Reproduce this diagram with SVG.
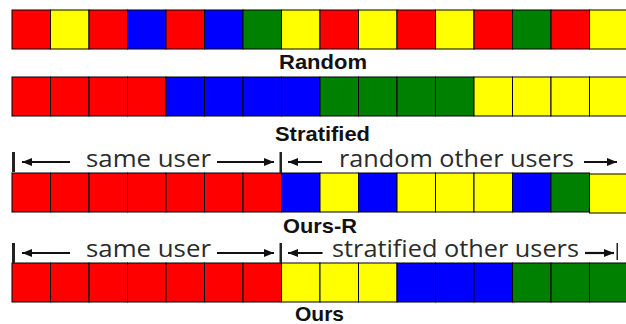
<svg xmlns="http://www.w3.org/2000/svg" width="626" height="324" viewBox="0 0 626 324">
<style>
.c{stroke:#000;stroke-width:1}
.R{fill:#ff0000}.Y{fill:#ffff00}.B{fill:#0000ff}.G{fill:#008000}
.lab{font-family:"Liberation Sans",Arial,sans-serif;font-weight:bold;font-size:21px;fill:#111;text-anchor:middle}
.br{font-family:"Open Sans","Liberation Sans",sans-serif;font-size:23px;fill:#2b2b2b}
.ar{stroke:#111;stroke-width:2.2;fill:none;marker-end:url(#ah)}
.bar{fill:#222}
</style>
<defs>
<marker id="ah" markerUnits="userSpaceOnUse" markerWidth="10" markerHeight="8" refX="10" refY="4" orient="auto">
<path d="M0,0 L10,4 L0,8 z" fill="#111"/>
</marker>
</defs>
<rect width="626" height="324" fill="#fff"/>

<g id="row-random">
<rect class="c R" x="12" y="10" width="38.5" height="39"/>
<rect class="c Y" x="50.5" y="10" width="38.5" height="39"/>
<rect class="c R" x="89" y="10" width="38.5" height="39"/>
<rect class="c B" x="127.5" y="10" width="38.5" height="39"/>
<rect class="c R" x="166" y="10" width="38.5" height="39"/>
<rect class="c B" x="204.5" y="10" width="38.5" height="39"/>
<rect class="c G" x="243" y="10" width="38.5" height="39"/>
<rect class="c Y" x="281.5" y="10" width="38.5" height="39"/>
<rect class="c R" x="320" y="10" width="38.5" height="39"/>
<rect class="c Y" x="358.5" y="10" width="38.5" height="39"/>
<rect class="c R" x="397" y="10" width="38.5" height="39"/>
<rect class="c Y" x="435.5" y="10" width="38.5" height="39"/>
<rect class="c R" x="474" y="10" width="38.5" height="39"/>
<rect class="c G" x="512.5" y="10" width="38.5" height="39"/>
<rect class="c R" x="551" y="10" width="38.5" height="39"/>
<rect class="c Y" x="589.5" y="10" width="38.5" height="39"/>
<text class="lab" x="323" y="69" textLength="88" lengthAdjust="spacingAndGlyphs">Random</text>
</g>

<g id="row-stratified">
<rect class="c R" x="12" y="77" width="38.5" height="39"/>
<rect class="c R" x="50.5" y="77" width="38.5" height="39"/>
<rect class="c R" x="89" y="77" width="38.5" height="39"/>
<rect class="c R" x="127.5" y="77" width="38.5" height="39"/>
<rect class="c B" x="166" y="77" width="38.5" height="39"/>
<rect class="c B" x="204.5" y="77" width="38.5" height="39"/>
<rect class="c B" x="243" y="77" width="38.5" height="39"/>
<rect class="c B" x="281.5" y="77" width="38.5" height="39"/>
<rect class="c G" x="320" y="77" width="38.5" height="39"/>
<rect class="c G" x="358.5" y="77" width="38.5" height="39"/>
<rect class="c G" x="397" y="77" width="38.5" height="39"/>
<rect class="c G" x="435.5" y="77" width="38.5" height="39"/>
<rect class="c Y" x="474" y="77" width="38.5" height="39"/>
<rect class="c Y" x="512.5" y="77" width="38.5" height="39"/>
<rect class="c Y" x="551" y="77" width="38.5" height="39"/>
<rect class="c Y" x="589.5" y="77" width="38.5" height="39"/>
<text class="lab" x="322.5" y="141" textLength="95" lengthAdjust="spacingAndGlyphs">Stratified</text>
</g>

<g id="row-ours-r">
<rect class="c R" x="12" y="173" width="38.5" height="39"/>
<rect class="c R" x="50.5" y="173" width="38.5" height="39"/>
<rect class="c R" x="89" y="173" width="38.5" height="39"/>
<rect class="c R" x="127.5" y="173" width="38.5" height="39"/>
<rect class="c R" x="166" y="173" width="38.5" height="39"/>
<rect class="c R" x="204.5" y="173" width="38.5" height="39"/>
<rect class="c R" x="243" y="173" width="38.5" height="39"/>
<rect class="c B" x="281.5" y="173" width="38.5" height="39"/>
<rect class="c Y" x="320" y="173" width="38.5" height="39"/>
<rect class="c B" x="358.5" y="173" width="38.5" height="39"/>
<rect class="c Y" x="397" y="173" width="38.5" height="39"/>
<rect class="c Y" x="435.5" y="173" width="38.5" height="39"/>
<rect class="c Y" x="474" y="173" width="38.5" height="39"/>
<rect class="c B" x="512.5" y="173" width="38.5" height="39"/>
<rect class="c G" x="551" y="173" width="38.5" height="39"/>
<rect class="c Y" x="589.5" y="174" width="38.5" height="39"/>
<text class="lab" x="320" y="233" textLength="74" lengthAdjust="spacingAndGlyphs">Ours-R</text>
<text class="br" x="86" y="167" textLength="125" lengthAdjust="spacingAndGlyphs">same user</text>
<text class="br" x="339" y="167" textLength="235" lengthAdjust="spacingAndGlyphs">random other users</text>
<rect class="bar" x="12" y="152" width="3" height="20"/>
<rect class="bar" x="279.5" y="152" width="2.5" height="21"/>
</g>

<g id="row-ours">
<rect class="c R" x="12" y="263" width="38.5" height="39"/>
<rect class="c R" x="50.5" y="263" width="38.5" height="39"/>
<rect class="c R" x="89" y="263" width="38.5" height="39"/>
<rect class="c R" x="127.5" y="263" width="38.5" height="39"/>
<rect class="c R" x="166" y="263" width="38.5" height="39"/>
<rect class="c R" x="204.5" y="263" width="38.5" height="39"/>
<rect class="c R" x="243" y="263" width="38.5" height="39"/>
<rect class="c Y" x="281.5" y="263" width="38.5" height="39"/>
<rect class="c Y" x="320" y="263" width="38.5" height="39"/>
<rect class="c Y" x="358.5" y="263" width="38.5" height="39"/>
<rect class="c B" x="397" y="263" width="38.5" height="39"/>
<rect class="c B" x="435.5" y="263" width="38.5" height="39"/>
<rect class="c B" x="474" y="263" width="38.5" height="39"/>
<rect class="c G" x="512.5" y="263" width="38.5" height="39"/>
<rect class="c G" x="551" y="263" width="38.5" height="39"/>
<rect class="c G" x="589.5" y="263" width="38.5" height="39"/>
<text class="lab" x="319.5" y="320.5" textLength="49" lengthAdjust="spacingAndGlyphs">Ours</text>
<text class="br" x="86" y="257" textLength="125" lengthAdjust="spacingAndGlyphs">same user</text>
<text class="br" x="332" y="257" textLength="247" lengthAdjust="spacingAndGlyphs">stratified other users</text>
<rect class="bar" x="12" y="243" width="3" height="20"/>
<rect class="bar" x="279.5" y="243" width="2.5" height="20"/>
<rect class="bar" x="616.5" y="243" width="1.5" height="17"/>
</g>

<g id="connectors">
<line class="ar" x1="70" y1="162" x2="22" y2="162"/>
<line class="ar" x1="217" y1="162" x2="274" y2="162"/>
<line class="ar" x1="322" y1="162" x2="288" y2="162"/>
<line class="ar" x1="584" y1="162" x2="617" y2="162"/>
<line class="ar" x1="70" y1="253" x2="22" y2="253"/>
<line class="ar" x1="217" y1="253" x2="274" y2="253"/>
<line class="ar" x1="322.5" y1="253" x2="288" y2="253"/>
<line class="ar" x1="585" y1="253" x2="614" y2="253"/>
</g>
</svg>
